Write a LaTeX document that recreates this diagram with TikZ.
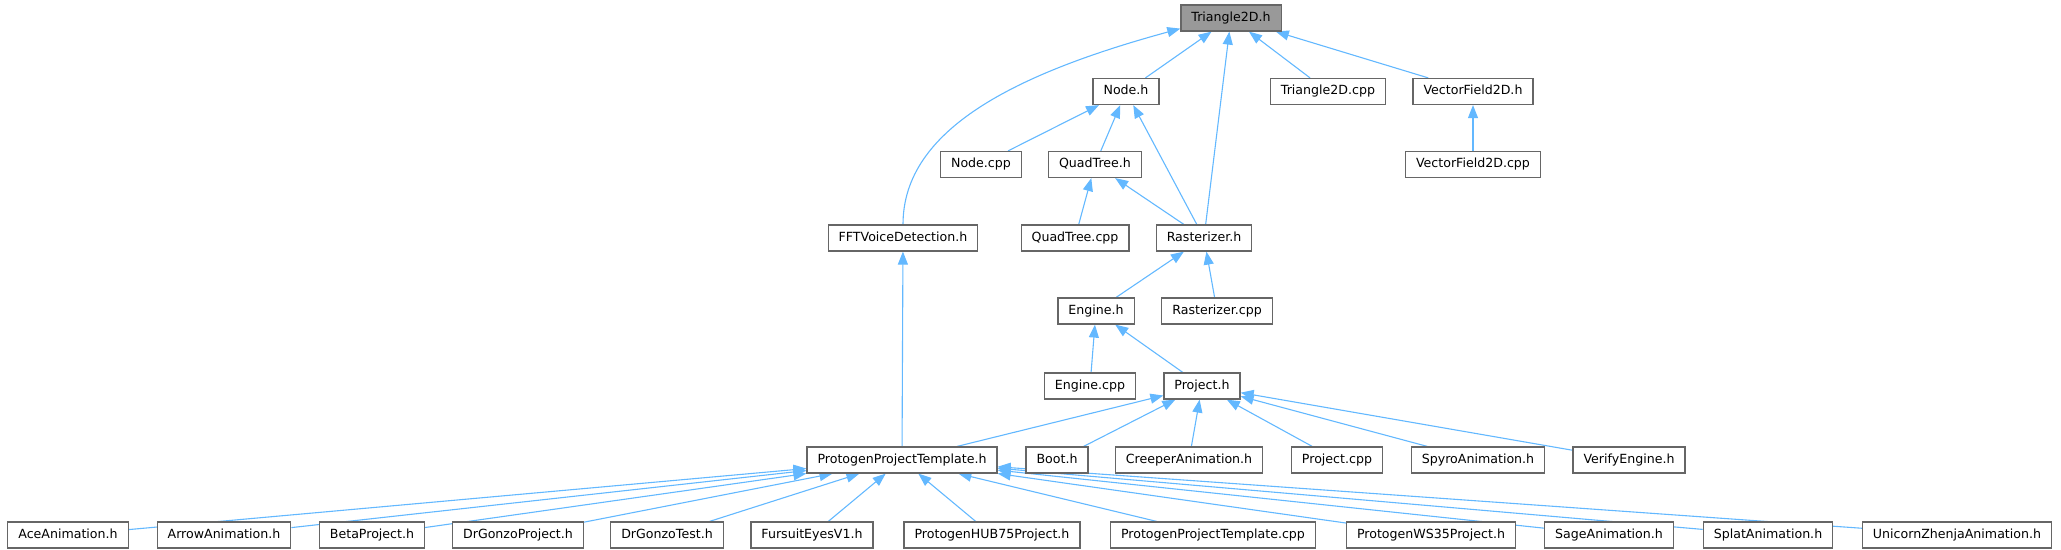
\documentclass[tikz,border=0pt]{standalone}
\usepackage{fontspec}
\setmainfont{DejaVu Sans}
\usepackage{xcolor}
\usetikzlibrary{arrows.meta,backgrounds}
\definecolor{edgeblue}{HTML}{63B8FF}
\definecolor{boxgray}{HTML}{666666}
\definecolor{rootgray}{HTML}{999999}

\begin{document}
\begin{tikzpicture}[x=1pt,y=-1pt,
  file/.style={draw=boxgray,line width=1.2pt,fill=white,minimum height=26pt,
               inner xsep=10.5pt,text height=9.4pt,text depth=2.6pt,
               font=\fontsize{12.6}{15}\selectfont},
  root/.style={file,fill=rootgray},
  dep/.style={{Triangle[length=13pt,width=10pt]}-,line width=1.1pt,draw=edgeblue}]
\useasboundingbox (0,0) rectangle (2061,549);
% top part
\node[root] (tri) at (1231,18) {Triangle2D.h};
\node[file] (nodeh) at (1126,91.5) {Node.h};
\node[file] (tricpp) at (1328,91.5) {Triangle2D.cpp};
\node[file] (vfh) at (1473,91.5) {VectorField2D.h};
\node[file] (nodecpp) at (981,164.5) {Node.cpp};
\node[file] (quadh) at (1095,164.5) {QuadTree.h};
\node[file] (vfcpp) at (1473,164.5) {VectorField2D.cpp};
\node[file] (fft) at (903,238) {FFTVoiceDetection.h};
\node[file] (quadcpp) at (1075,238) {QuadTree.cpp};
\node[file] (rast) at (1204,238) {Rasterizer.h};
\node[file] (engh) at (1096,311) {Engine.h};
\node[file] (rastcpp) at (1217,311) {Rasterizer.cpp};
\node[file] (engcpp) at (1090,386) {Engine.cpp};
\node[file] (projh) at (1202,386) {Project.h};
% project row
\node[file] (ppt) at (902,460) {ProtogenProjectTemplate.h};
\node[file] (boot) at (1057,460) {Boot.h};
\node[file] (creeper) at (1189,460) {CreeperAnimation.h};
\node[file] (projcpp) at (1337,460) {Project.cpp};
\node[file] (spyro) at (1478,460) {SpyroAnimation.h};
\node[file] (verify) at (1629,460) {VerifyEngine.h};
% bottom row
\node[file] (ace) at (68,535) {AceAnimation.h};
\node[file] (arrow) at (224,535) {ArrowAnimation.h};
\node[file] (beta) at (372,535) {BetaProject.h};
\node[file] (drgp) at (518,535) {DrGonzoProject.h};
\node[file] (drgt) at (667,535) {DrGonzoTest.h};
\node[file] (fursuit) at (812,535) {FursuitEyesV1.h};
\node[file] (hub) at (992,535) {ProtogenHUB75Project.h};
\node[file] (pptcpp) at (1213,535) {ProtogenProjectTemplate.cpp};
\node[file] (ws) at (1431,535) {ProtogenWS35Project.h};
\node[file] (sage) at (1609,535) {SageAnimation.h};
\node[file] (splat) at (1768,535) {SplatAnimation.h};
\node[file] (unicorn) at (1957,535) {UnicornZhenjaAnimation.h};

% edges (arrow at the included file)
\begin{scope}[on background layer]
\draw[dep] ([yshift=3pt]tri.south west) .. controls +(-165,45) and +(0,-95) .. (fft.north);
\draw[dep] (tri) -- (nodeh);
\draw[dep] (tri) -- (rast);
\draw[dep] (tri) -- (tricpp);
\draw[dep] (tri) -- (vfh);
\draw[dep] (nodeh) -- (nodecpp);
\draw[dep] (nodeh) -- (quadh);
\draw[dep] (nodeh) -- (rast);
\draw[dep] (quadh) -- (quadcpp);
\draw[dep] (quadh) -- (rast);
\draw[dep] (vfh) -- (vfcpp);
\draw[dep] (rast) -- (engh);
\draw[dep] (rast) -- (rastcpp);
\draw[dep] (engh) -- (engcpp);
\draw[dep] (engh) -- (projh);
\draw[dep] (fft) -- (ppt);
\foreach \c in {ppt,boot,creeper,projcpp,spyro,verify}
  \draw[dep] (projh) -- (\c);
\foreach \c in {ace,arrow,beta,drgp,drgt,fursuit,hub,pptcpp,ws,sage,splat,unicorn}
  \draw[dep] (ppt) -- (\c);
\end{scope}
\end{tikzpicture}
\end{document}
